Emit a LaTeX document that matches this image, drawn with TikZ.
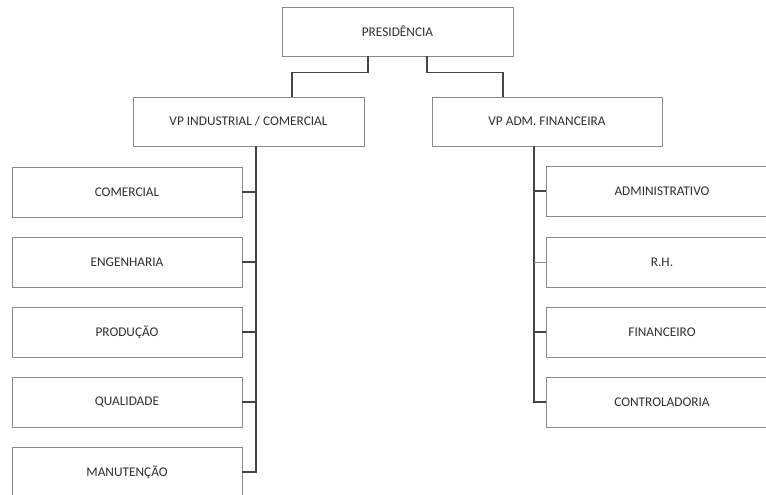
\documentclass[tikz,border=0pt]{standalone}
\usepackage{fontspec}
\setmainfont{Carlito}
\begin{document}
\begin{tikzpicture}[x=1pt,y=-1pt,
  box/.style={draw=boxgray,line width=0.9pt,fill=white,rectangle,minimum height=49pt,inner sep=0pt,font=\fontsize{13.3}{15}\selectfont,text=txtgray},
  link/.style={draw=linkgray,line width=1.3pt}]
\definecolor{boxgray}{HTML}{8A8A8A}
\definecolor{linkgray}{HTML}{454545}
\definecolor{txtgray}{HTML}{303030}
\useasboundingbox (0,0) rectangle (766,495);
\clip (0,0) rectangle (766,495);
\node[box,minimum width=231pt] (pres) at (397.5,31.5) {PRESIDÊNCIA};
\node[box,minimum width=231pt] (vpi) at (248.5,121.5) {VP INDUSTRIAL / COMERCIAL};
\node[box,minimum width=230pt] (vpa) at (547,121.5) {VP ADM. FINANCEIRA};
\node[box,minimum width=230pt,minimum height=50pt] (c1) at (127,192) {COMERCIAL};
\node[box,minimum width=230pt,minimum height=50pt] (c2) at (127,262) {ENGENHARIA};
\node[box,minimum width=230pt,minimum height=50pt] (c3) at (127,332) {PRODUÇÃO};
\node[box,minimum width=230pt,minimum height=50pt] (c4) at (127,402) {QUALIDADE};
\node[box,minimum width=230pt,minimum height=50pt] (c5) at (127,472) {MANUTENÇÃO};
\node[box,minimum width=232pt,minimum height=50pt] (d1) at (662,191) {ADMINISTRATIVO};
\node[box,minimum width=232pt,minimum height=50pt] (d2) at (662,262) {R.H.};
\node[box,minimum width=232pt,minimum height=50pt] (d3) at (662,332) {FINANCEIRO};
\node[box,minimum width=232pt,minimum height=50pt] (d4) at (662,402) {CONTROLADORIA};
% top connectors
\draw[link] ([xshift=-29.5pt]pres.south) -- ++(0,16) -| ([xshift=43.5pt]vpi.north);
\draw[link] ([xshift=29.5pt]pres.south) -- ++(0,16) -| ([xshift=-44pt]vpa.north);
% left bus
\coordinate (lb) at ([xshift=7.5pt]vpi.south);
\draw[link] (lb) |- (c5.east);
\foreach \n in {c1,c2,c3,c4} \draw[link] (\n.east) -- (\n.east -| lb);
% right bus
\coordinate (rb) at ([xshift=-13pt]vpa.south);
\draw[link] (rb) |- (d4.west);
\foreach \n in {d1,d3} \draw[link] (\n.west) -- (\n.west -| rb);
\draw[link,draw=boxgray,line width=1pt] (d2.west) -- (d2.west -| rb);
\end{tikzpicture}
\end{document}
